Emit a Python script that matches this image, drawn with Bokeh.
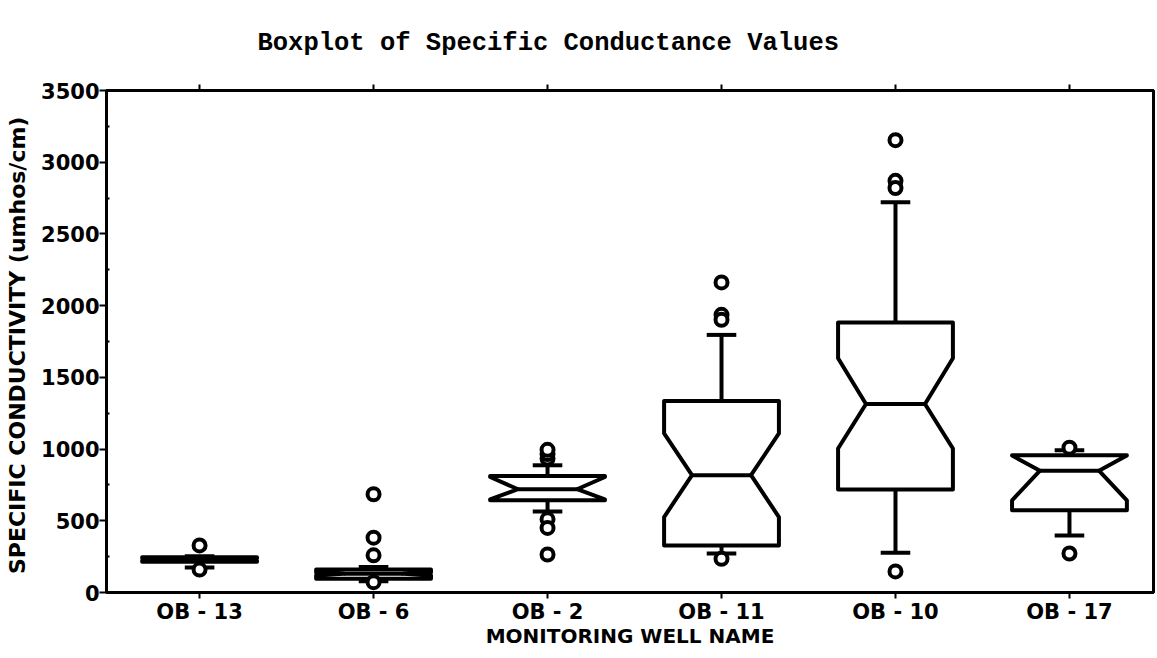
from bokeh.plotting import figure
from bokeh.models import FixedTicker, LinearAxis, Range1d
from bokeh.embed import file_html
from bokeh.resources import INLINE

# ---- data ----
wells = ["OB - 13", "OB - 6", "OB - 2", "OB - 11", "OB - 10", "OB - 17"]
q1 = [215, 95, 643, 328, 718, 573]
median = [230, 130, 720, 818, 1314, 849]
q3 = [245, 160, 812, 1335, 1882, 957]
notch_lo = [222, 120, 650, 526, 1004, 643]
notch_hi = [238, 140, 805, 1109, 1633, 955]
whisker_lo = [175, 78, 565, 272, 277, 398]
whisker_hi = [252, 178, 887, 1796, 2721, 992]
outlier_well = [1, 1, 2, 2, 2, 2, 3, 3, 3, 3, 3, 3, 4, 4, 4, 4, 5, 5, 5, 5, 6, 6]
outlier_val = [328, 160, 685, 382, 259, 72, 935, 965, 995, 510, 450, 265,
               2162, 1936, 1901, 235, 3154, 2870, 2820, 147, 1010, 272]
y_ticks = [0, 500, 1000, 1500, 2000, 2500, 3000, 3500]
y_minor = [250, 750, 1250, 1750, 2250, 2750, 3250]

FONT = "DejaVu Sans"
BOX_W = 0.66
INSET = 0.243 * BOX_W
CAP_W = 0.17
LW = 4

p = figure(width=1156, height=650, output_backend="svg", toolbar_location=None,
           x_range=Range1d(0.465, 6.483), y_range=Range1d(0, 3500),
           min_border_left=106, min_border_right=3, min_border_top=90, min_border_bottom=58)
p.background_fill_color = "white"
p.border_fill_color = "white"
p.outline_line_color = "black"
p.outline_line_width = 3
p.xgrid.visible = False
p.ygrid.visible = False

# title
p.title.text = "Boxplot of Specific Conductance Values"
p.title.text_font = "Liberation Mono"
p.title.text_font_style = "bold"
p.title.text_font_size = "25.5px"
p.title.align = "left"
p.title.offset = 151
p.title.standoff = 50
p.title.vertical_align = "top"
p.title.text_color = "black"

xs_c = list(range(1, len(wells) + 1))

# notched boxes
xs, ys = [], []
for i, c in enumerate(xs_c):
    l, r = c - BOX_W / 2, c + BOX_W / 2
    xs.append([l, l, l + INSET, l, l, r, r, r - INSET, r, r])
    ys.append([q1[i], notch_lo[i], median[i], notch_hi[i], q3[i],
               q3[i], notch_hi[i], median[i], notch_lo[i], q1[i]])
p.patches(xs, ys, fill_color="white", line_color="black", line_width=LW, line_join="round")

# medians
p.segment([c - BOX_W / 2 + INSET for c in xs_c], median,
          [c + BOX_W / 2 - INSET for c in xs_c], median, line_color="black", line_width=LW)
# whiskers
p.segment(xs_c, q3, xs_c, whisker_hi, line_color="black", line_width=LW)
p.segment(xs_c, q1, xs_c, whisker_lo, line_color="black", line_width=LW)
p.segment([c - CAP_W / 2 for c in xs_c], whisker_hi, [c + CAP_W / 2 for c in xs_c], whisker_hi,
          line_color="black", line_width=LW)
p.segment([c - CAP_W / 2 for c in xs_c], whisker_lo, [c + CAP_W / 2 for c in xs_c], whisker_lo,
          line_color="black", line_width=LW)
# outliers
p.scatter(outlier_well, outlier_val, marker="circle", size=12, fill_color="white",
          line_color="black", line_width=4)

# x axis
xa = p.xaxis[0]
xa.ticker = FixedTicker(ticks=xs_c)
xa.major_label_overrides = {c: w for c, w in zip(xs_c, wells)}
xa.axis_line_width = 3
xa.major_tick_line_width = 2
xa.major_tick_out = 6
xa.major_tick_in = 0
xa.minor_tick_line_color = None
xa.major_label_standoff = 1
xa.major_label_text_font = FONT
xa.major_label_text_font_style = "bold"
xa.major_label_text_font_size = "21px"
xa.major_label_text_color = "black"
xa.axis_label = "MONITORING WELL NAME"
xa.axis_label_text_font = FONT
xa.axis_label_text_font_style = "bold"
xa.axis_label_text_font_size = "20px"
xa.axis_label_standoff = -3
xa.axis_label_text_color = "black"

# y axis
ya = p.yaxis[0]
ya.ticker = FixedTicker(ticks=y_ticks, minor_ticks=y_minor)
ya.axis_line_width = 3
ya.major_tick_line_width = 2
ya.major_tick_out = 7
ya.major_tick_in = 0
ya.minor_tick_in = 3
ya.minor_tick_out = 0
ya.minor_tick_line_width = 2
ya.major_label_standoff = 0
ya.major_label_text_font = FONT
ya.major_label_text_font_style = "bold"
ya.major_label_text_font_size = "21px"
ya.major_label_text_color = "black"
ya.axis_label = "SPECIFIC CONDUCTIVITY  (umhos/cm)"
ya.axis_label_text_font = FONT
ya.axis_label_text_font_style = "bold"
ya.axis_label_text_font_size = "22px"
ya.axis_label_standoff = 8
ya.axis_label_text_color = "black"

# top axis: outward ticks only, labels not drawn
top = LinearAxis(ticker=FixedTicker(ticks=xs_c), major_tick_out=6, major_tick_in=0,
                 major_tick_line_width=2, axis_line_width=3, minor_tick_line_color=None,
                 major_label_text_color=None, major_label_standoff=0)
p.add_layout(top, "above")

open("out.html", "w").write(file_html(p, INLINE))
